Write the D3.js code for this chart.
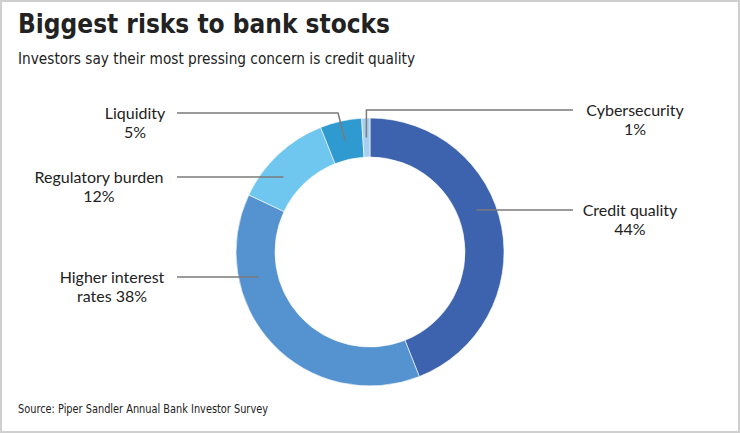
<!DOCTYPE html>
<html><head><meta charset="utf-8">
<script src="https://cdn.jsdelivr.net/npm/d3@7"></script>
<style>
html,body{margin:0;padding:0;background:#fff;}
svg{display:block;}
</style></head>
<body>
<script>
const categories = ["Credit quality","Higher interest rates","Regulatory burden","Liquidity","Cybersecurity"];
const values = [44, 38, 12, 5, 1];
const colors = ["#3d62ae","#5592d0","#6fc7ef","#2e9acf","#a8cff0"];
const labelLines = [["Credit quality","44%"],["Higher interest","rates 38%"],["Regulatory burden","12%"],["Liquidity","5%"],["Cybersecurity","1%"]];

const W = 740, H = 433;
const cx = 370, cy = 252, rOut = 134, rIn = 95, rMid = (rOut + rIn) / 2;
const condensed = "'Liberation Sans Narrow','DejaVu Sans Condensed','Roboto Condensed',Arial Narrow,sans-serif";
const labelFont = "Lato,'Open Sans',sans-serif";

const svg = d3.select("body").append("svg").attr("width", W).attr("height", H);
svg.append("rect").attr("x",1).attr("y",1).attr("width",W-2).attr("height",H-2)
  .attr("fill","#fff").attr("stroke","#cfcfcf").attr("stroke-width",2);

svg.append("text").attr("x",18).attr("y",33).text("Biggest risks to bank stocks")
  .attr("font-family",condensed).attr("font-weight","bold").attr("font-size",27).attr("fill","#222")
  .attr("textLength",372).attr("lengthAdjust","spacingAndGlyphs");
svg.append("text").attr("x",18).attr("y",64).text("Investors say their most pressing concern is credit quality")
  .attr("font-family",condensed).attr("font-size",15.5).attr("fill","#222")
  .attr("textLength",397).attr("lengthAdjust","spacingAndGlyphs");
svg.append("text").attr("x",18).attr("y",413).text("Source: Piper Sandler Annual Bank Investor Survey")
  .attr("font-family",condensed).attr("font-size",11.5).attr("fill","#222")
  .attr("textLength",250).attr("lengthAdjust","spacingAndGlyphs");

const pie = d3.pie().sort(null).value(d => d)(values);
const arc = d3.arc().innerRadius(rIn).outerRadius(rOut);
const g = svg.append("g").attr("transform",`translate(${cx},${cy})`);
g.selectAll("path").data(pie).join("path")
  .attr("d", arc).attr("fill",(d,i)=>colors[i]).attr("stroke","#fff").attr("stroke-width",0.6);

// label layout: text center x, first-line center y, line start x, side
const layout = [
  {tx:630, ty:210, lx:573, side:1, mode:"h"},
  {tx:112, ty:277, lx:177, side:-1, mode:"h"},
  {tx:99,  ty:177, lx:177, side:-1, mode:"h"},
  {tx:135, ty:113, lx:177, side:-1, mode:"bend"},
  {tx:635, ty:110, lx:573, side:1, mode:"bend"}
];
const lineG = svg.append("g").attr("fill","none").attr("stroke","#7a7a7a").attr("stroke-width",1.5);
pie.forEach((d,i) => {
  const L = layout[i];
  let pts;
  if (L.mode === "h") {
    const dy = L.ty - cy;
    const dx = L.side * Math.sqrt(rMid*rMid - dy*dy);
    pts = [[L.lx, L.ty],[cx+dx, L.ty]];
  } else {
    const a = (d.startAngle + d.endAngle)/2;
    const ex = cx + rMid*Math.sin(a), ey = cy - rMid*Math.cos(a);
    const bx = L.side < 0 ? ex - 7 : ex;
    pts = [[L.lx, L.ty],[bx, L.ty],[ex, ey]];
  }
  lineG.append("path").attr("d", d3.line()(pts));
  const t = svg.append("text").attr("text-anchor","middle")
    .attr("font-family",labelFont).attr("font-size",16).attr("fill","#222");
  labelLines[i].forEach((s,k) => {
    t.append("tspan").attr("x",L.tx).attr("y",L.ty + 5.8 + k*19).text(s);
  });
});
</script>
</body></html>
